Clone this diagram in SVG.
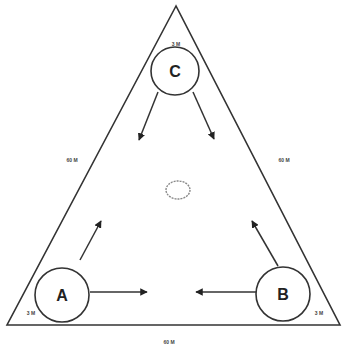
<svg xmlns="http://www.w3.org/2000/svg" width="343" height="347" viewBox="0 0 343 347">
<style>
.edge{stroke:#333;stroke-width:1.6;fill:none}
.node circle{fill:#fff;stroke:#333;stroke-width:1.6}
.node text{font-family:"Liberation Sans",Arial,sans-serif;font-weight:bold;font-size:16px;fill:#222;text-anchor:middle}
.lbl{font-family:"Liberation Sans",Arial,sans-serif;font-weight:bold;font-size:5px;fill:#444;text-anchor:middle}
.arr{stroke:#333;stroke-width:1.5;fill:none;marker-end:url(#ah)}
</style>
<defs>
<marker id="ah" viewBox="0 0 10 10" refX="9" refY="5" markerWidth="5" markerHeight="5" orient="auto" markerUnits="strokeWidth">
<path d="M0,0 L10,5 L0,10 z" fill="#222"/>
</marker>
</defs>
<rect width="343" height="347" fill="#fff"/>
<g id="field">
<polygon points="176,6 7,325 340,325" class="edge"/>
<ellipse cx="178" cy="190" rx="12" ry="9" fill="none" stroke="#888" stroke-width="1.4" stroke-dasharray="2,1"/>
</g>
<g id="labels">
<text class="lbl" x="176" y="46">3 M</text>
<text class="lbl" x="72" y="162">60 M</text>
<text class="lbl" x="284" y="162">60 M</text>
<text class="lbl" x="31" y="315">3 M</text>
<text class="lbl" x="319" y="315">3 M</text>
<text class="lbl" x="169" y="344">60 M</text>
</g>
<g id="connectors">
<line class="arr" x1="158" y1="92" x2="139" y2="140"/>
<line class="arr" x1="193" y1="92" x2="214" y2="139"/>
<line class="arr" x1="80" y1="260" x2="101" y2="221"/>
<line class="arr" x1="90" y1="292" x2="147" y2="292"/>
<line class="arr" x1="256" y1="292" x2="196" y2="292"/>
<line class="arr" x1="278" y1="266" x2="252" y2="221"/>
</g>
<g id="node-C" class="node"><circle cx="175" cy="71" r="24"/><text x="175" y="77">C</text></g>
<g id="node-A" class="node"><circle cx="62" cy="295" r="27"/><text x="62" y="301">A</text></g>
<g id="node-B" class="node"><circle cx="283" cy="294" r="27"/><text x="283" y="300">B</text></g>
</svg>
